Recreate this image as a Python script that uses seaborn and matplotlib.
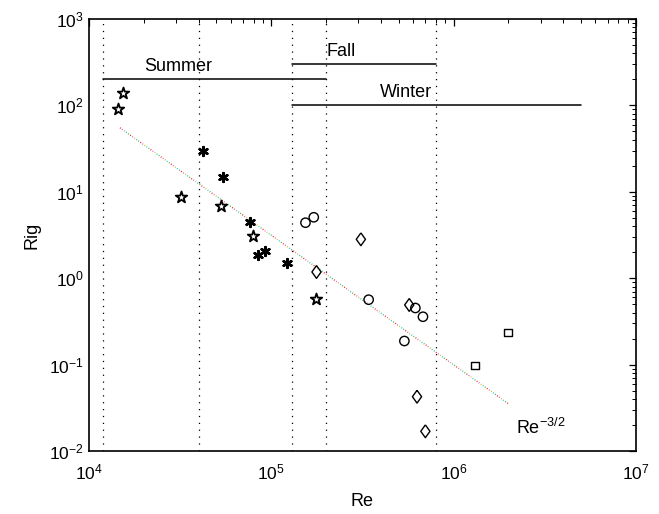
import numpy as np
import pandas as pd
import matplotlib
matplotlib.use("Agg")
import matplotlib.pyplot as plt
import seaborn as sns

# ---- data ----
star_re = [1.45e4, 1.53e4, 3.18e4, 5.3e4, 7.97e4, 1.76e5]
star_rig = [90.8, 140, 8.78, 6.85, 3.08, 0.58]

ast_re = [4.24e4, 5.41e4, 7.67e4, 8.42e4, 9.23e4, 1.22e5]
ast_rig = [29.9, 15.0, 4.44, 1.84, 2.06, 1.49]

circ_re = [1.54e5, 1.71e5, 3.42e5, 6.17e5, 6.79e5, 5.37e5]
circ_rig = [4.39, 5.07, 0.564, 0.452, 0.358, 0.1875]

diam_re = [1.77e5, 3.1e5, 5.71e5, 6.3e5, 7.0e5]
diam_rig = [1.18, 2.82, 0.49, 0.0425, 0.0169]

sq_re = [1.31e6, 1.99e6]
sq_rig = [0.097, 0.236]

fit_re = [1.48e4, 1.99e6]
fit_rig = [55.0, 0.0355]

vlines_re = [1.2e4, 4.0e4, 1.3e5, 2.0e5, 8.0e5]

season_names = ["Summer", "Fall", "Winter"]
season_start = [1.2e4, 1.3e5, 1.3e5]
season_end = [2.0e5, 8.0e5, 5.0e6]
season_level = [200, 300, 100]

# ---- style ----
sns.set_theme(style="white")
plt.rcParams["font.family"] = ["Liberation Sans", "DejaVu Sans"]
plt.rcParams["mathtext.fontset"] = "custom"
plt.rcParams["mathtext.rm"] = "Liberation Sans"
plt.rcParams["mathtext.it"] = "Liberation Sans:italic"
plt.rcParams["mathtext.bf"] = "Liberation Sans:bold"
plt.rcParams["axes.unicode_minus"] = True
plt.rcParams["text.color"] = "black"
plt.rcParams["axes.labelcolor"] = "black"
plt.rcParams["xtick.color"] = "black"
plt.rcParams["ytick.color"] = "black"

fig = plt.figure(figsize=(6.59, 5.14), dpi=100)
ax = fig.add_axes([0.135, 0.1226, 0.83, 0.8404])
ax.set_xscale("log")
ax.set_yscale("log")
ax.set_xlim(1e4, 1e7)
ax.set_ylim(1e-2, 1e3)

# vertical dotted lines
for v in vlines_re:
    ax.axvline(v, color="black", linestyle=(0, (1, 4.5)), linewidth=0.9, zorder=1)

# season bars
for name, s, e, lvl in zip(season_names, season_start, season_end, season_level):
    ax.plot([s, e], [lvl, lvl], color="black", linewidth=1.1, zorder=2)

# fit line: multicolour dotted
fit_df = pd.DataFrame({"Re": fit_re, "Rig": fit_rig})
cols = ["red", "#33aa33", "#00c8d0", "#e0b000", "#cc55cc"]
for i, c in enumerate(cols):
    sns.lineplot(data=fit_df, x="Re", y="Rig", ax=ax, color=c, linewidth=1.0,
                 linestyle=(i * 1.8, (0.6, 8.4)), zorder=3)

# markers
diamond = [(0, 1), (0.72, 0), (0, -1), (-0.72, 0), (0, 1)]
sns.scatterplot(x=star_re, y=star_rig, ax=ax, marker="*", s=75,
                facecolor="white", edgecolor="black", linewidth=1.3, zorder=5)
sns.scatterplot(x=ast_re, y=ast_rig, ax=ax, marker=(6, 2, 0), s=40,
                color="black", edgecolor="black", linewidth=1.8, zorder=5)
sns.scatterplot(x=circ_re, y=circ_rig, ax=ax, marker="o", s=45,
                facecolor="none", edgecolor="black", linewidth=1.0, zorder=5)
sns.scatterplot(x=diam_re, y=diam_rig, ax=ax, marker=diamond, s=85,
                facecolor="none", edgecolor="black", linewidth=1.0, zorder=5)
sns.scatterplot(x=sq_re, y=sq_rig, ax=ax, marker="s", s=28,
                facecolor="none", edgecolor="black", linewidth=1.0, zorder=5)

# texts
ax.text(3.08e4, 252, "Summer", ha="center", va="baseline", fontsize=13, color="black")
ax.text(2.01e5, 373, "Fall", ha="left", va="baseline", fontsize=13, color="black")
ax.text(7.6e5, 126, "Winter", ha="right", va="baseline", fontsize=13, color="black")
ax.text(2.2e6, 0.0157, r"Re$^{-3/2}$", ha="left", va="baseline", fontsize=13, color="black")

ax.set_xlabel("Re", fontsize=13, labelpad=8, color="black")
ax.set_ylabel("Rig", fontsize=13, labelpad=6, color="black")

for s in ax.spines.values():
    s.set_color("black")
    s.set_linewidth(1.2)
    s.set_visible(True)

ax.tick_params(which="both", direction="in", top=True, right=True,
               color="black", labelcolor="black", labelsize=12.5)
ax.tick_params(which="major", length=5, width=0.9)
ax.tick_params(which="minor", length=3, width=0.7)
ax.tick_params(axis="x", pad=8)
ax.tick_params(axis="y", pad=4)
ax.xaxis.set_minor_locator(matplotlib.ticker.LogLocator(base=10, subs=np.arange(2, 10)))
ax.yaxis.set_minor_locator(matplotlib.ticker.LogLocator(base=10, subs=np.arange(2, 10)))
ax.xaxis.set_minor_formatter(matplotlib.ticker.NullFormatter())
ax.yaxis.set_minor_formatter(matplotlib.ticker.NullFormatter())
ax.grid(False)
if ax.get_legend() is not None:
    ax.get_legend().remove()

fig.savefig("out.png", dpi=100)
